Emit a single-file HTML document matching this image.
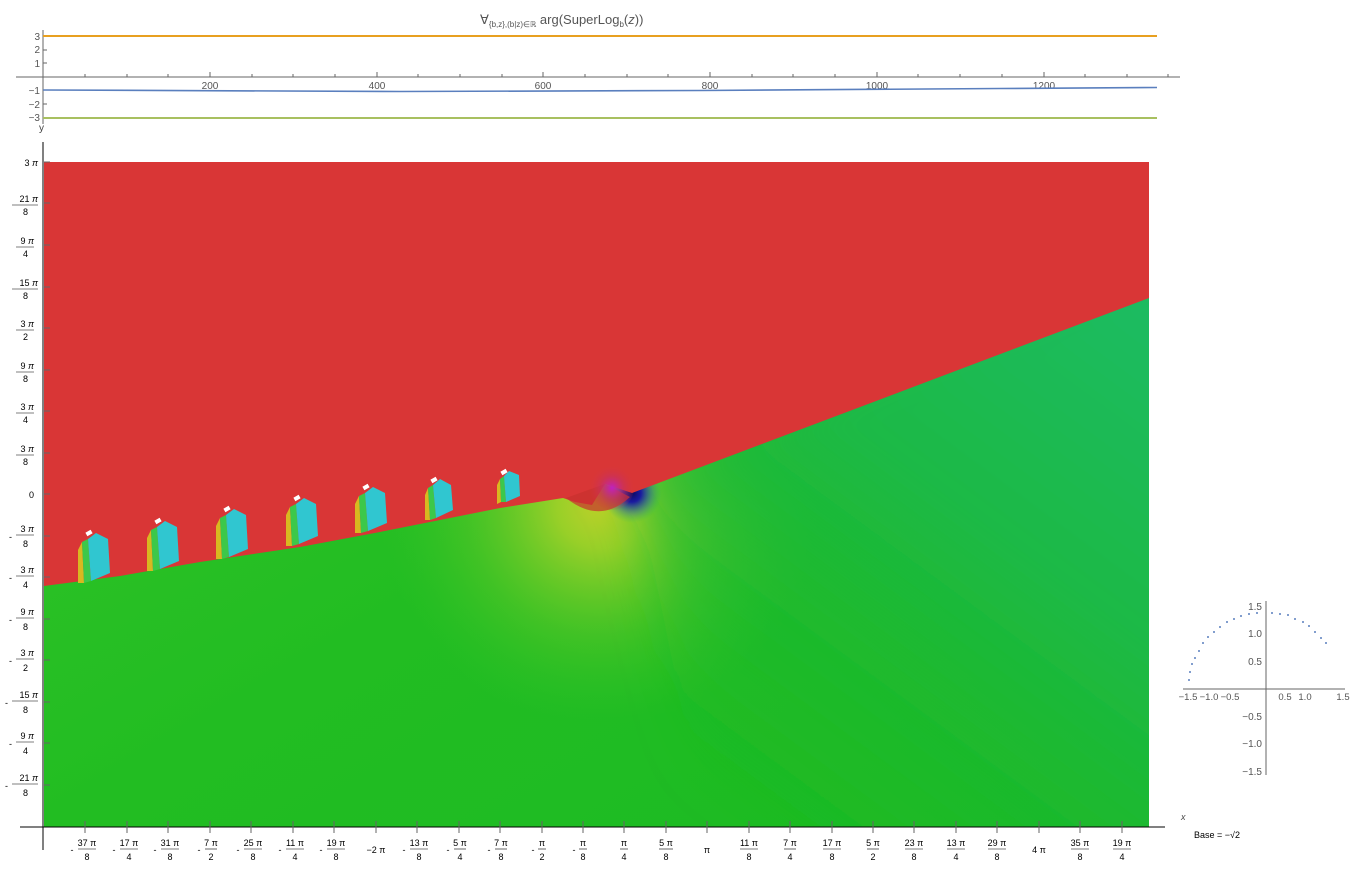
<!DOCTYPE html>
<html><head><meta charset="utf-8"><style>
body{margin:0;background:#fff;}
svg{display:block;font-family:"Liberation Sans",sans-serif;}
</style></head><body>
<svg width="1353" height="869" viewBox="0 0 1353 869">
<defs>
<linearGradient id="gl" x1="0" y1="0" x2="1" y2="1">
<stop offset="0" stop-color="#36c52a"/><stop offset="0.5" stop-color="#22bd22"/><stop offset="1" stop-color="#1bba24"/>
</linearGradient>
<linearGradient id="gr" x1="1149" y1="300" x2="760" y2="827" gradientUnits="userSpaceOnUse">
<stop offset="0" stop-color="#1dbb62"/><stop offset="0.45" stop-color="#1cb944"/><stop offset="1" stop-color="#1bb722" stop-opacity="0"/>
</linearGradient>
<radialGradient id="yel" cx="600" cy="505" r="220" gradientUnits="userSpaceOnUse">
<stop offset="0" stop-color="#c8d22a" stop-opacity="0.95"/><stop offset="0.2" stop-color="#b5d42a" stop-opacity="0.8"/><stop offset="0.6" stop-color="#7ccd2a" stop-opacity="0.35"/><stop offset="1" stop-color="#3fc62a" stop-opacity="0"/>
</radialGradient>
<radialGradient id="blu" cx="632" cy="493" r="30" gradientUnits="userSpaceOnUse">
<stop offset="0" stop-color="#0a0a60"/><stop offset="0.3" stop-color="#1a1aa0"/><stop offset="0.7" stop-color="#2a6aa0" stop-opacity="0.4"/><stop offset="1" stop-color="#1dbb62" stop-opacity="0"/>
</radialGradient>
<radialGradient id="mag" cx="612" cy="488" r="24" gradientUnits="userSpaceOnUse">
<stop offset="0" stop-color="#c020c0"/><stop offset="0.5" stop-color="#c83060" stop-opacity="0.6"/><stop offset="1" stop-color="#d93636" stop-opacity="0"/>
</radialGradient>
<filter id="bl" x="-20%" y="-20%" width="140%" height="140%"><feGaussianBlur stdDeviation="25"/></filter>
<clipPath id="pc"><rect x="44" y="162" width="1105" height="665"/></clipPath>
</defs>

<text x="480" y="24" font-size="13" fill="#555">∀<tspan font-size="8" dy="3">{b,z},(b|z)∈ℝ</tspan><tspan dy="-3"> arg(SuperLog</tspan><tspan font-size="8" dy="3">b</tspan><tspan dy="-3">(</tspan><tspan font-style="italic">z</tspan>))</text>

<line x1="43" y1="30" x2="43" y2="124" stroke="#666"/>
<line x1="16" y1="77" x2="1180" y2="77" stroke="#666"/>
<g stroke="#666">
<line x1="43" y1="36" x2="47" y2="36"/><line x1="43" y1="50" x2="47" y2="50"/><line x1="43" y1="63" x2="47" y2="63"/>
<line x1="43" y1="90" x2="47" y2="90"/><line x1="43" y1="104" x2="47" y2="104"/><line x1="43" y1="118" x2="47" y2="118"/>
<line x1="210" y1="72" x2="210" y2="77"/><line x1="377" y1="72" x2="377" y2="77"/><line x1="543" y1="72" x2="543" y2="77"/><line x1="710" y1="72" x2="710" y2="77"/><line x1="877" y1="72" x2="877" y2="77"/><line x1="1044" y1="72" x2="1044" y2="77"/>
<line x1="85" y1="74" x2="85" y2="77"/><line x1="127" y1="74" x2="127" y2="77"/><line x1="168" y1="74" x2="168" y2="77"/><line x1="252" y1="74" x2="252" y2="77"/><line x1="293" y1="74" x2="293" y2="77"/><line x1="335" y1="74" x2="335" y2="77"/><line x1="418" y1="74" x2="418" y2="77"/><line x1="460" y1="74" x2="460" y2="77"/><line x1="502" y1="74" x2="502" y2="77"/><line x1="585" y1="74" x2="585" y2="77"/><line x1="627" y1="74" x2="627" y2="77"/><line x1="668" y1="74" x2="668" y2="77"/><line x1="752" y1="74" x2="752" y2="77"/><line x1="793" y1="74" x2="793" y2="77"/><line x1="835" y1="74" x2="835" y2="77"/><line x1="918" y1="74" x2="918" y2="77"/><line x1="960" y1="74" x2="960" y2="77"/><line x1="1002" y1="74" x2="1002" y2="77"/><line x1="1085" y1="74" x2="1085" y2="77"/><line x1="1127" y1="74" x2="1127" y2="77"/><line x1="1168" y1="74" x2="1168" y2="77"/>
</g>
<g font-size="10" fill="#555" text-anchor="end">
<text x="40" y="40">3</text><text x="40" y="53">2</text><text x="40" y="67">1</text>
<text x="40" y="94">−1</text><text x="40" y="108">−2</text><text x="40" y="121">−3</text>
</g>
<g font-size="10" fill="#555" text-anchor="middle">
<text x="210" y="89">200</text><text x="377" y="89">400</text><text x="543" y="89">600</text><text x="710" y="89">800</text><text x="877" y="89">1000</text><text x="1044" y="89">1200</text>
</g>
<line x1="43" y1="36" x2="1157" y2="36" stroke="#e8a020" stroke-width="2"/>
<polyline points="43,90 400,91.5 700,90.5 1000,88.5 1157,87.5" fill="none" stroke="#5a7fbe" stroke-width="1.6"/>
<line x1="43" y1="118" x2="1157" y2="118" stroke="#a8c060" stroke-width="2"/>
<text x="39" y="131" font-size="10" fill="#444">y</text>

<rect x="44" y="162" width="1105" height="665" fill="url(#gl)"/>
<rect x="44" y="420" width="1105" height="407" fill="url(#yel)"/>
<g clip-path="url(#pc)">
<polygon points="610,460 1250,200 1250,900 720,900 640,500" fill="url(#gr)" filter="url(#bl)"/>
</g>
<circle cx="632" cy="495" r="30" fill="url(#blu)"/>
<polygon points="44,162 1149,162 1149,298 632,493 605,484 592,505 575,502 563,498 500,508 440,520 380,532 300,547 200,562 120,576 44,586" fill="#d93636"/>
<path d="M566,498 Q600,525 630,497 L605,484 Z" fill="#c8302e" opacity="0.7"/>
<circle cx="612" cy="488" r="22" fill="url(#mag)"/>

<g>
<g transform="translate(96,545)">
<polygon points="-18,5 -14,-3 -12,38 -18,38" fill="#d8b820"/><polygon points="-14,-3 -8,-6 -5,36 -12,38" fill="#3cc84a"/><polygon points="-8,-6 0,-12 12,-6 14,28 -5,36" fill="#30c6d0"/><rect x="-10" y="-14" width="6" height="4" fill="#fff" transform="rotate(-30,-7,-12)"/></g>
<g transform="translate(165,533)">
<polygon points="-18,5 -14,-3 -12,38 -18,38" fill="#d8b820"/><polygon points="-14,-3 -8,-6 -5,36 -12,38" fill="#3cc84a"/><polygon points="-8,-6 0,-12 12,-6 14,28 -5,36" fill="#30c6d0"/><rect x="-10" y="-14" width="6" height="4" fill="#fff" transform="rotate(-30,-7,-12)"/></g>
<g transform="translate(234,521)">
<polygon points="-18,5 -14,-3 -12,38 -18,38" fill="#d8b820"/><polygon points="-14,-3 -8,-6 -5,36 -12,38" fill="#3cc84a"/><polygon points="-8,-6 0,-12 12,-6 14,28 -5,36" fill="#30c6d0"/><rect x="-10" y="-14" width="6" height="4" fill="#fff" transform="rotate(-30,-7,-12)"/></g>
<g transform="translate(304,510)">
<polygon points="-18,5 -14,-3 -12,36 -18,36" fill="#d8b820"/><polygon points="-14,-3 -8,-6 -5,34 -12,36" fill="#3cc84a"/><polygon points="-8,-6 0,-12 12,-6 14,26 -5,34" fill="#30c6d0"/><rect x="-10" y="-14" width="6" height="4" fill="#fff" transform="rotate(-30,-7,-12)"/></g>
<g transform="translate(373,499)">
<polygon points="-18,5 -14,-3 -12,34 -18,34" fill="#d8b820"/><polygon points="-14,-3 -8,-6 -5,32 -12,34" fill="#3cc84a"/><polygon points="-8,-6 0,-12 12,-6 14,24 -5,32" fill="#30c6d0"/><rect x="-10" y="-14" width="6" height="4" fill="#fff" transform="rotate(-30,-7,-12)"/></g>
<g transform="translate(440,490)">
<polygon points="-15,5 -12,-2 -10,30 -15,30" fill="#d8b820"/><polygon points="-12,-2 -7,-5 -4,28 -10,30" fill="#3cc84a"/><polygon points="-7,-5 0,-11 11,-5 13,20 -4,28" fill="#30c6d0"/><rect x="-9" y="-12" width="6" height="4" fill="#fff" transform="rotate(-30,-6,-10)"/></g>
<g transform="translate(509,480)">
<polygon points="-12,5 -9,-1 -8,22 -12,24" fill="#d8b820"/><polygon points="-9,-1 -5,-4 -3,22 -8,22" fill="#3cc84a"/><polygon points="-5,-4 0,-9 10,-5 11,16 -3,22" fill="#30c6d0"/><rect x="-8" y="-10" width="6" height="4" fill="#fff" transform="rotate(-30,-5,-8)"/></g>
</g>

<line x1="43" y1="142" x2="43" y2="850" stroke="#000"/>
<line x1="20" y1="827" x2="1165" y2="827" stroke="#000"/>
<g stroke="#666">
<line x1="44" y1="162" x2="50" y2="162"/><line x1="44" y1="203" x2="50" y2="203"/><line x1="44" y1="245" x2="50" y2="245"/><line x1="44" y1="287" x2="50" y2="287"/><line x1="44" y1="328" x2="50" y2="328"/><line x1="44" y1="370" x2="50" y2="370"/><line x1="44" y1="411" x2="50" y2="411"/><line x1="44" y1="453" x2="50" y2="453"/><line x1="44" y1="494" x2="50" y2="494"/><line x1="44" y1="536" x2="50" y2="536"/><line x1="44" y1="577" x2="50" y2="577"/><line x1="44" y1="619" x2="50" y2="619"/><line x1="44" y1="660" x2="50" y2="660"/><line x1="44" y1="702" x2="50" y2="702"/><line x1="44" y1="743" x2="50" y2="743"/><line x1="44" y1="785" x2="50" y2="785"/>
</g>
<g font-size="9" fill="#000" text-anchor="end">
<text x="38" y="166">3 <tspan font-style="italic">π</tspan></text>
<text x="38" y="202">21 <tspan font-style="italic">π</tspan></text><line x1="12" y1="205" x2="38" y2="205" stroke="#000" stroke-width="0.6"/><text x="28" y="215">8</text>
<text x="34" y="244">9 <tspan font-style="italic">π</tspan></text><line x1="16" y1="247" x2="34" y2="247" stroke="#000" stroke-width="0.6"/><text x="28" y="257">4</text>
<text x="38" y="286">15 <tspan font-style="italic">π</tspan></text><line x1="12" y1="289" x2="38" y2="289" stroke="#000" stroke-width="0.6"/><text x="28" y="299">8</text>
<text x="34" y="327">3 <tspan font-style="italic">π</tspan></text><line x1="16" y1="330" x2="34" y2="330" stroke="#000" stroke-width="0.6"/><text x="28" y="340">2</text>
<text x="34" y="369">9 <tspan font-style="italic">π</tspan></text><line x1="16" y1="372" x2="34" y2="372" stroke="#000" stroke-width="0.6"/><text x="28" y="382">8</text>
<text x="34" y="410">3 <tspan font-style="italic">π</tspan></text><line x1="16" y1="413" x2="34" y2="413" stroke="#000" stroke-width="0.6"/><text x="28" y="423">4</text>
<text x="34" y="452">3 <tspan font-style="italic">π</tspan></text><line x1="16" y1="455" x2="34" y2="455" stroke="#000" stroke-width="0.6"/><text x="28" y="465">8</text>
<text x="34" y="498">0</text>
<g><text x="12" y="540">-</text><text x="34" y="532">3 <tspan font-style="italic">π</tspan></text><line x1="16" y1="535" x2="34" y2="535" stroke="#000" stroke-width="0.6"/><text x="28" y="547">8</text></g>
<g><text x="12" y="581">-</text><text x="34" y="573">3 <tspan font-style="italic">π</tspan></text><line x1="16" y1="576" x2="34" y2="576" stroke="#000" stroke-width="0.6"/><text x="28" y="588">4</text></g>
<g><text x="12" y="623">-</text><text x="34" y="615">9 <tspan font-style="italic">π</tspan></text><line x1="16" y1="618" x2="34" y2="618" stroke="#000" stroke-width="0.6"/><text x="28" y="630">8</text></g>
<g><text x="12" y="664">-</text><text x="34" y="656">3 <tspan font-style="italic">π</tspan></text><line x1="16" y1="659" x2="34" y2="659" stroke="#000" stroke-width="0.6"/><text x="28" y="671">2</text></g>
<g><text x="8" y="706">-</text><text x="38" y="698">15 <tspan font-style="italic">π</tspan></text><line x1="12" y1="701" x2="38" y2="701" stroke="#000" stroke-width="0.6"/><text x="28" y="713">8</text></g>
<g><text x="12" y="747">-</text><text x="34" y="739">9 <tspan font-style="italic">π</tspan></text><line x1="16" y1="742" x2="34" y2="742" stroke="#000" stroke-width="0.6"/><text x="28" y="754">4</text></g>
<g><text x="8" y="789">-</text><text x="38" y="781">21 <tspan font-style="italic">π</tspan></text><line x1="12" y1="784" x2="38" y2="784" stroke="#000" stroke-width="0.6"/><text x="28" y="796">8</text></g>
</g>

<g font-size="9" fill="#000" text-anchor="middle">
<g stroke="#666">
<line x1="85" y1="821" x2="85" y2="833"/><line x1="127" y1="821" x2="127" y2="833"/><line x1="168" y1="821" x2="168" y2="833"/><line x1="210" y1="821" x2="210" y2="833"/><line x1="251" y1="821" x2="251" y2="833"/><line x1="293" y1="821" x2="293" y2="833"/><line x1="334" y1="821" x2="334" y2="833"/><line x1="376" y1="821" x2="376" y2="833"/><line x1="417" y1="821" x2="417" y2="833"/><line x1="459" y1="821" x2="459" y2="833"/><line x1="500" y1="821" x2="500" y2="833"/><line x1="542" y1="821" x2="542" y2="833"/><line x1="583" y1="821" x2="583" y2="833"/><line x1="624" y1="821" x2="624" y2="833"/><line x1="666" y1="821" x2="666" y2="833"/><line x1="707" y1="821" x2="707" y2="833"/><line x1="749" y1="821" x2="749" y2="833"/><line x1="790" y1="821" x2="790" y2="833"/><line x1="832" y1="821" x2="832" y2="833"/><line x1="873" y1="821" x2="873" y2="833"/><line x1="914" y1="821" x2="914" y2="833"/><line x1="956" y1="821" x2="956" y2="833"/><line x1="997" y1="821" x2="997" y2="833"/><line x1="1039" y1="821" x2="1039" y2="833"/><line x1="1080" y1="821" x2="1080" y2="833"/><line x1="1122" y1="821" x2="1122" y2="833"/>
</g>
<g stroke="#000" stroke-width="0.6">
<line x1="78" y1="849" x2="96" y2="849"/><line x1="120" y1="849" x2="138" y2="849"/><line x1="161" y1="849" x2="179" y2="849"/><line x1="205" y1="849" x2="217" y2="849"/><line x1="244" y1="849" x2="262" y2="849"/><line x1="286" y1="849" x2="304" y2="849"/><line x1="327" y1="849" x2="345" y2="849"/><line x1="410" y1="849" x2="428" y2="849"/><line x1="454" y1="849" x2="466" y2="849"/><line x1="495" y1="849" x2="507" y2="849"/><line x1="538" y1="849" x2="546" y2="849"/><line x1="579" y1="849" x2="587" y2="849"/><line x1="620" y1="849" x2="628" y2="849"/><line x1="659" y1="849" x2="673" y2="849"/><line x1="740" y1="849" x2="758" y2="849"/><line x1="784" y1="849" x2="796" y2="849"/><line x1="823" y1="849" x2="841" y2="849"/><line x1="867" y1="849" x2="879" y2="849"/><line x1="905" y1="849" x2="923" y2="849"/><line x1="947" y1="849" x2="965" y2="849"/><line x1="988" y1="849" x2="1006" y2="849"/><line x1="1071" y1="849" x2="1089" y2="849"/><line x1="1113" y1="849" x2="1131" y2="849"/>
</g>
<g>
<text x="87" y="846">37 π</text><text x="87" y="860">8</text><text x="72" y="853">-</text>
<text x="129" y="846">17 π</text><text x="129" y="860">4</text><text x="114" y="853">-</text>
<text x="170" y="846">31 π</text><text x="170" y="860">8</text><text x="155" y="853">-</text>
<text x="211" y="846">7 π</text><text x="211" y="860">2</text><text x="199" y="853">-</text>
<text x="253" y="846">25 π</text><text x="253" y="860">8</text><text x="238" y="853">-</text>
<text x="295" y="846">11 π</text><text x="295" y="860">4</text><text x="280" y="853">-</text>
<text x="336" y="846">19 π</text><text x="336" y="860">8</text><text x="321" y="853">-</text>
<text x="376" y="853">−2 π</text>
<text x="419" y="846">13 π</text><text x="419" y="860">8</text><text x="404" y="853">-</text>
<text x="460" y="846">5 π</text><text x="460" y="860">4</text><text x="448" y="853">-</text>
<text x="501" y="846">7 π</text><text x="501" y="860">8</text><text x="489" y="853">-</text>
<text x="542" y="846">π</text><text x="542" y="860">2</text><text x="533" y="853">-</text>
<text x="583" y="846">π</text><text x="583" y="860">8</text><text x="574" y="853">-</text>
<text x="624" y="846">π</text><text x="624" y="860">4</text>
<text x="666" y="846">5 π</text><text x="666" y="860">8</text>
<text x="707" y="853">π</text>
<text x="749" y="846">11 π</text><text x="749" y="860">8</text>
<text x="790" y="846">7 π</text><text x="790" y="860">4</text>
<text x="832" y="846">17 π</text><text x="832" y="860">8</text>
<text x="873" y="846">5 π</text><text x="873" y="860">2</text>
<text x="914" y="846">23 π</text><text x="914" y="860">8</text>
<text x="956" y="846">13 π</text><text x="956" y="860">4</text>
<text x="997" y="846">29 π</text><text x="997" y="860">8</text>
<text x="1039" y="853">4 π</text>
<text x="1080" y="846">35 π</text><text x="1080" y="860">8</text>
<text x="1122" y="846">19 π</text><text x="1122" y="860">4</text>
</g>
</g>
<text x="1181" y="820" font-size="9" fill="#444" font-style="italic">x</text>
<text x="1194" y="838" font-size="9" fill="#000">Base = −√2</text>

<line x1="1266" y1="601" x2="1266" y2="775" stroke="#666"/>
<line x1="1183" y1="689" x2="1345" y2="689" stroke="#666"/>
<g font-size="10" fill="#555" text-anchor="end">
<text x="1262" y="610">1.5</text><text x="1262" y="637">1.0</text><text x="1262" y="665">0.5</text>
<text x="1262" y="720">−0.5</text><text x="1262" y="747">−1.0</text><text x="1262" y="775">−1.5</text>
</g>
<g font-size="9.5" fill="#555" text-anchor="middle">
<text x="1188" y="700">−1.5</text><text x="1209" y="700">−1.0</text><text x="1230" y="700">−0.5</text>
<text x="1285" y="700">0.5</text><text x="1305" y="700">1.0</text><text x="1343" y="700">1.5</text>
</g>
<g fill="#5a7fbe">
<circle cx="1189" cy="680" r="1"/><circle cx="1190" cy="672" r="1"/><circle cx="1192" cy="664" r="1"/><circle cx="1195" cy="658" r="1"/><circle cx="1199" cy="651" r="1"/><circle cx="1203" cy="643" r="1"/><circle cx="1208" cy="637" r="1"/><circle cx="1214" cy="632" r="1"/><circle cx="1220" cy="627" r="1"/><circle cx="1227" cy="622" r="1"/><circle cx="1234" cy="619" r="1"/><circle cx="1241" cy="616" r="1"/><circle cx="1249" cy="614" r="1"/><circle cx="1257" cy="613" r="1"/><circle cx="1272" cy="613" r="1"/><circle cx="1280" cy="614" r="1"/><circle cx="1288" cy="615" r="1"/><circle cx="1295" cy="619" r="1"/><circle cx="1303" cy="622" r="1"/><circle cx="1309" cy="626" r="1"/><circle cx="1315" cy="632" r="1"/><circle cx="1321" cy="638" r="1"/><circle cx="1326" cy="643" r="1"/>
</g>
</svg>
</body></html>
